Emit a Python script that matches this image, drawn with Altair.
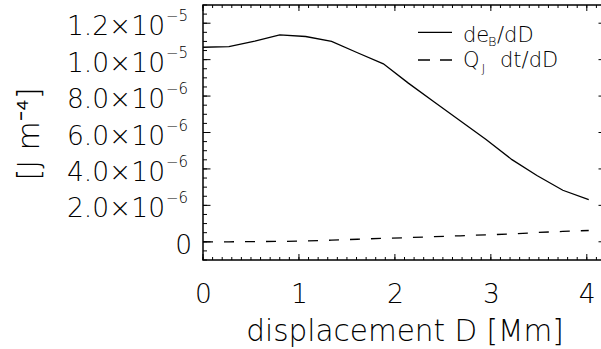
import altair as alt
import pandas as pd

# ---------------- data ----------------
D_MM = [0.00, 0.27, 0.54, 0.80, 1.07, 1.34, 1.61, 1.88, 2.14, 2.41, 2.68, 2.95, 3.22, 3.48, 3.75, 4.02]
DEB_DD = [10.68, 10.72, 11.02, 11.36, 11.27, 11.00, 10.38, 9.77, 8.71, 7.67, 6.65, 5.62, 4.51, 3.64, 2.83, 2.32]
QJ_DT_DD = [0.00, 0.00, 0.01, 0.02, 0.045, 0.09, 0.14, 0.19, 0.23, 0.28, 0.33, 0.38, 0.43, 0.51, 0.57, 0.62]
UNIT = 1e-6  # values above are in 1e-6 J m^-4

X_MAJOR = [0, 1, 2, 3, 4]
X_MINOR = [round(0.1 * i, 1) for i in range(0, 43)]
Y_MAJOR = [0.0, 2e-6, 4e-6, 6e-6, 8e-6, 1.0e-5, 1.2e-5]
Y_MANTISSA = ["0", "2.0×10", "4.0×10", "6.0×10", "8.0×10", "1.0×10", "1.2×10"]
Y_EXPONENT = ["", "−6", "−6", "−6", "−6", "−5", "−5"]
Y_MINOR = [round(0.5 * i, 1) * 1e-6 for i in range(-2, 27)]

X_DOMAIN = [0, 4.2]
Y_DOMAIN = [-1e-6, 1.3e-5]

X_TITLE = "displacement D [Mm]"
Y_TITLE = "[J m⁻⁴]"

W, H = 403, 255
FONT = "DejaVu Sans"
WEIGHT = 200
INK = "#000000"

xs = alt.Scale(domain=X_DOMAIN, nice=False, zero=False)
ys = alt.Scale(domain=Y_DOMAIN, nice=False, zero=False)

curves = pd.DataFrame({
    "D": D_MM,
    "deB": [v * UNIT for v in DEB_DD],
    "QJ": [v * UNIT for v in QJ_DT_DD],
})

x_axis = alt.Axis(values=X_MAJOR, ticks=False, tickSize=0, domain=False, grid=False,
                  labelFontSize=26.5, labelPadding=21, labelFlush=False, labelOverlap=False,
                  labelFont=FONT, labelFontWeight=WEIGHT, labelColor=INK,
                  title=X_TITLE, titleFont=FONT, titleFontSize=29.5, titleFontWeight=WEIGHT,
                  titleColor=INK, titleY=80, titleBaseline="alphabetic")
y_axis = alt.Axis(labels=False, ticks=False, tickSize=0, domain=False, grid=False,
                  title=Y_TITLE, titleFont=FONT, titleFontSize=30, titleFontWeight=WEIGHT,
                  titleColor=INK, titleX=-174, titleY=128.5, titleAngle=270,
                  titleBaseline="middle", titleAlign="center")


def X(field):
    return alt.X(field, scale=xs, axis=x_axis, title=X_TITLE)


def Y(field):
    return alt.Y(field, scale=ys, axis=y_axis, title=Y_TITLE)


solid = alt.Chart(curves).mark_line(color=INK, strokeWidth=1.3).encode(
    x=X("D:Q"), y=Y("deB:Q"))
dashed = alt.Chart(curves).mark_line(color=INK, strokeWidth=1.3, strokeDash=[10, 11]).encode(
    x=X("D:Q"), y=Y("QJ:Q"))


def xticks(vals, y0, y1):
    return alt.Chart(pd.DataFrame({"v": vals})).mark_rule(color=INK, strokeWidth=1).encode(
        x=X("v:Q"), y=alt.value(y0), y2=alt.value(y1))


def yticks(vals, x0, x1):
    return alt.Chart(pd.DataFrame({"v": vals})).mark_rule(color=INK, strokeWidth=1).encode(
        y=Y("v:Q"), x=alt.value(x0), x2=alt.value(x1))


tick_layers = [
    xticks(X_MAJOR, H - 6, H), xticks(X_MINOR, H - 3, H),
    xticks(X_MAJOR, 0, 6), xticks(X_MINOR, 0, 3),
    yticks(Y_MAJOR, 0, 7.5), yticks(Y_MINOR, 0, 4),
    yticks(Y_MAJOR, W - 7.5, W), yticks(Y_MINOR, W - 4, W),
]

ylab = pd.DataFrame({"v": Y_MAJOR, "m": Y_MANTISSA, "e": Y_EXPONENT})
zero_lab = alt.Chart(ylab.iloc[:1]).mark_text(
    align="right", baseline="alphabetic", dy=12, fontSize=26.5, font=FONT,
    fontWeight=WEIGHT, color=INK).encode(
    x=alt.value(-11), y=Y("v:Q"), text="m:N")
mant_lab = alt.Chart(ylab.iloc[1:]).mark_text(
    align="right", baseline="alphabetic", dy=12, fontSize=26.5, font=FONT,
    fontWeight=WEIGHT, color=INK).encode(
    x=alt.value(-38), y=Y("v:Q"), text="m:N")
exp_lab = alt.Chart(ylab.iloc[1:]).mark_text(
    align="left", baseline="alphabetic", dy=-2, fontSize=15, font=FONT,
    fontWeight=WEIGHT, color=INK).encode(
    x=alt.value(-37), y=Y("v:Q"), text="e:N")

one = pd.DataFrame({"k": [0]})


def leg_text(txt, x, y, size):
    return alt.Chart(one).mark_text(align="left", baseline="alphabetic", fontSize=size,
                                    font=FONT, fontWeight=WEIGHT, color=INK).encode(
        x=alt.value(x), y=alt.value(y), text=alt.value(txt))


LEG = 21
legend = [
    alt.Chart(one).mark_rule(color=INK, strokeWidth=1.3).encode(
        x=alt.value(215), x2=alt.value(249), y=alt.value(27.3)),
    alt.Chart(one).mark_rule(color=INK, strokeWidth=1.3, strokeDash=[12, 10]).encode(
        x=alt.value(215), x2=alt.value(249), y=alt.value(55)),
    leg_text("de", 260, 36.7, LEG), leg_text("B", 285, 40.5, 13), leg_text("/dD", 294, 36.7, LEG),
    leg_text("Q", 260, 61.7, LEG), leg_text("J", 278.5, 68, 13), leg_text("dt/dD", 297, 61.7, LEG),
]

chart = alt.layer(solid, dashed, *tick_layers, zero_lab, mant_lab, exp_lab, *legend).properties(
    width=W, height=H,
    autosize=alt.AutoSizeParams(type="none"),
    padding={"left": 203, "top": 5, "right": -5, "bottom": 89},
    background="white",
).configure_view(stroke=INK, strokeWidth=1.5)

chart.save("out.html", embed_options={"renderer": "svg", "actions": False})
